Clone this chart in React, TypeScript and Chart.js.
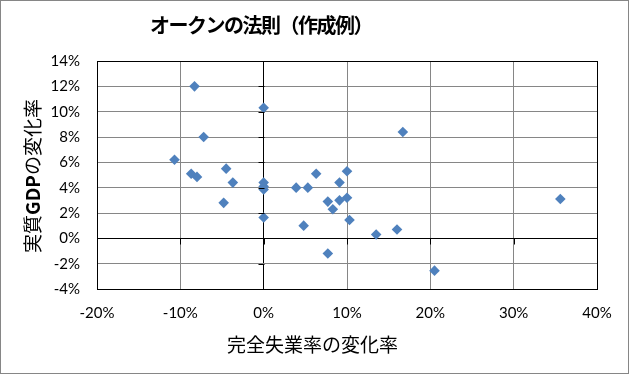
import React, { useEffect, useRef } from "react";
import { Chart, registerables } from "chart.js";

Chart.register(...registerables);

const chartTitle = "オークンの法則（作成例）";
const xAxisTitle = "完全失業率の変化率";
const yAxisTitleParts = ["実質", "GDP", "の変化率"];

// change in unemployment rate (%)
const unemploymentChange = [
  -8.3, 0, -7.2, -10.7, -8.7, -8.0, -4.5, -3.7, -4.8, 0, 0, 0, 0,
  16.7, 6.3, 10.0, 3.9, 5.3, 9.1, 7.7, 9.1, 10.0, 8.3, 4.8, 10.3,
  13.5, 16.0, 7.7, 20.5, 35.6,
];
// change in real GDP (%)
const gdpChange = [
  12.0, 10.3, 8.0, 6.2, 5.1, 4.85, 5.5, 4.4, 2.8, 4.4, 4.1, 3.85, 1.65,
  8.4, 5.1, 5.3, 4.0, 4.0, 4.4, 2.9, 3.0, 3.2, 2.3, 1.0, 1.45,
  0.3, 0.7, -1.2, -2.55, 3.1,
];

const xMin = -20, xMax = 40, xStep = 10;
const yMin = -4, yMax = 14, yStep = 2;

const CJK = '"Noto Sans CJK JP", sans-serif';
const TICK_FONT = "Lato, 'Open Sans', sans-serif";

const textPlugin = {
  id: "textPlugin",
  afterDraw(chart: any) {
    const ctx = chart.ctx;
    ctx.save();
    ctx.fillStyle = "#000";
    ctx.textBaseline = "middle";
    ctx.textAlign = "center";
    // title
    ctx.font = `bold 20px ${CJK}`;
    try { (ctx as any).letterSpacing = "-1.5px"; } catch (e) {}
    ctx.fillText(chartTitle, 260, 24);
    try { (ctx as any).letterSpacing = "0px"; } catch (e) {}
    // x title
    ctx.font = `19px ${CJK}`;
    ctx.fillText(xAxisTitle, 311.5, 344);
    // y title (rotated, with bold GDP)
    ctx.translate(32, 175);
    ctx.rotate(-Math.PI / 2);
    const fonts = [`19px ${CJK}`, `bold 19px ${CJK}`, `19px ${CJK}`];
    const widths = yAxisTitleParts.map((t, i) => {
      ctx.font = fonts[i];
      return ctx.measureText(t).width;
    });
    const total = widths.reduce((a, b) => a + b, 0);
    let x = -total / 2;
    ctx.textAlign = "left";
    yAxisTitleParts.forEach((t, i) => {
      ctx.font = fonts[i];
      ctx.fillText(t, x, 0);
      x += widths[i];
    });
    ctx.restore();
  },
};

const axisTickPlugin = {
  id: "axisTickPlugin",
  afterDatasetsDraw(chart: any) {
    const { ctx, scales } = chart;
    const xs = scales.x;
    const ys = scales.y;
    const x0 = Math.round(xs.getPixelForValue(0)) + 0.5;
    const y0 = Math.round(ys.getPixelForValue(0)) + 0.5;
    ctx.save();
    ctx.strokeStyle = "#000";
    ctx.lineWidth = 1;
    ctx.beginPath();
    ys.ticks.forEach((t: any) => {
      const py = Math.round(ys.getPixelForValue(t.value)) + 0.5;
      ctx.moveTo(x0 - 6, py);
      ctx.lineTo(x0, py);
    });
    xs.ticks.forEach((t: any) => {
      const px = Math.round(xs.getPixelForValue(t.value)) + 0.5;
      ctx.moveTo(px, y0);
      ctx.lineTo(px, y0 + 6);
    });
    ctx.stroke();
    ctx.restore();
  },
};

export default function App() {
  const ref = useRef<HTMLCanvasElement | null>(null);

  useEffect(() => {
    if (!ref.current) return;
    const data = unemploymentChange.map((x, i) => ({ x, y: gdpChange[i] }));
    const gridColor = (min: number, max: number) => (c: any) => {
      const v = c.tick ? c.tick.value : null;
      return v === 0 || v === min || v === max ? "#000000" : "#868686";
    };
    const chart = new Chart(ref.current, {
      type: "scatter",
      data: {
        datasets: [
          {
            label: "実質GDPの変化率",
            data,
            pointStyle: "rectRot",
            pointRadius: 5.3,
            pointBorderWidth: 0,
            backgroundColor: "#4F81BD",
            borderColor: "#4F81BD",
          },
        ],
      },
      options: {
        animation: false,
        responsive: false,
        maintainAspectRatio: false,
        layout: { padding: { left: 0, right: 31, top: 60, bottom: 0 } },
        plugins: {
          legend: { display: false },
          tooltip: { enabled: false },
          title: { display: false },
        },
        scales: {
          x: {
            type: "linear",
            min: xMin,
            max: xMax,
            afterFit: (s: any) => {
              s.height = 84;
            },
            ticks: {
              stepSize: xStep,
              color: "#000",
              padding: 15,
              font: { family: TICK_FONT, size: 15 },
              callback: (v: any) => `${v}%`,
            },
            grid: {
              color: gridColor(xMin, xMax),
              lineWidth: 1,
              drawTicks: false,
            },
            border: { display: true, color: "#000" },
          },
          y: {
            type: "linear",
            min: yMin,
            max: yMax,
            afterFit: (s: any) => {
              s.width = 96;
            },
            ticks: {
              stepSize: yStep,
              color: "#000",
              padding: 17,
              font: { family: TICK_FONT, size: 15 },
              callback: (v: any) => `${v}%`,
            },
            grid: {
              color: gridColor(yMin, yMax),
              lineWidth: 1,
              drawTicks: false,
            },
            border: { display: true, color: "#000" },
          },
        },
      },
      plugins: [axisTickPlugin, textPlugin],
    } as any);
    return () => chart.destroy();
  }, []);

  return (
    <div
      style={{
        position: "absolute",
        left: 0,
        top: 0,
        width: 629,
        height: 374,
        boxSizing: "border-box",
        border: "1px solid #868686",
        background: "#fff",
      }}
    >
      <canvas ref={ref} width={627} height={372} style={{ display: "block", width: 627, height: 372 }} />
    </div>
  );
}
